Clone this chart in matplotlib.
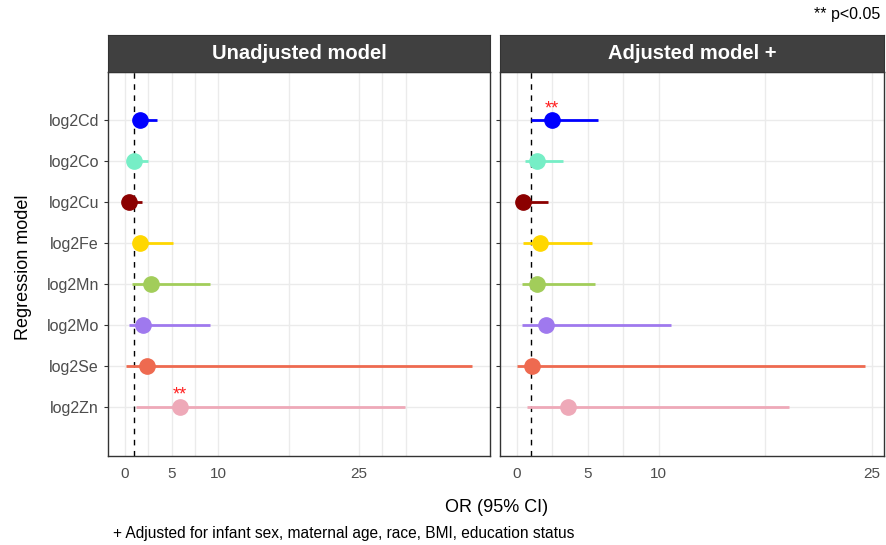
import matplotlib.pyplot as plt
import numpy as np

plt.rcParams['font.family'] = ['Liberation Sans', 'DejaVu Sans']

# metals, top to bottom
metals = ["log2Cd", "log2Co", "log2Cu", "log2Fe", "log2Mn", "log2Mo", "log2Se", "log2Zn"]
colors = ["#0000FF", "#76EEC6", "#8B0000", "#FFD700", "#A2CD5A", "#9F79EE", "#EE6A50", "#EEA9B8"]

# Unadjusted model: OR and 95% CI
unadj_or = [1.68, 1.00, 0.43, 1.60, 2.80, 1.96, 2.40, 5.90]
unadj_lo = [1.05, 0.55, 0.10, 0.85, 0.82, 0.41, 0.10, 1.21]
unadj_hi = [3.40, 2.50, 1.89, 5.20, 9.10, 9.15, 37.1, 29.9]
unadj_sig = [False, False, False, False, False, False, False, True]

# Adjusted model
adj_or = [2.46, 1.41, 0.47, 1.64, 1.41, 2.04, 1.06, 3.59]
adj_lo = [1.01, 0.58, 0.10, 0.45, 0.40, 0.40, 0.04, 0.70]
adj_hi = [5.70, 3.28, 2.18, 5.30, 5.51, 10.85, 24.5, 19.2]
adj_sig = [True, False, False, False, False, False, False, False]

panels = [
    ("Unadjusted model", unadj_or, unadj_lo, unadj_hi, unadj_sig, (-1.78, 39.0),
     [0, 2.5, 5, 7.5, 10, 17.5, 25, 27.5, 30], [0.1219, 0.4312]),
    ("Adjusted model +", adj_or, adj_lo, adj_hi, adj_sig, (-1.18, 25.87),
     [0, 2.5, 5, 7.5, 10, 17.5, 25], [0.5643, 0.4334]),
]
xticks = [0, 5, 10, 25]

fig = plt.figure(figsize=(8.86, 5.45), dpi=100)
ypos = np.arange(len(metals))[::-1] + 1  # Cd at top

for i, (title, est, lo, hi, sig, xlim, grid, (left, width)) in enumerate(panels):
    ax = fig.add_axes([left, 0.1633, width, 0.7046])
    for g in grid:
        ax.axvline(g, color="#EBEBEB", lw=1, zorder=0)
    for y in ypos:
        ax.axhline(y, color="#EBEBEB", lw=1, zorder=0)
    ax.axvline(1, color="black", lw=1, ls=(0, (4, 4)), zorder=1)
    for k in range(len(metals)):
        ax.plot([lo[k], hi[k]], [ypos[k], ypos[k]], color=colors[k], lw=2.0, zorder=2,
                solid_capstyle="butt")
        ax.plot(est[k], ypos[k], "o", color=colors[k], ms=11, zorder=3)
        if sig[k]:
            ax.text(est[k], ypos[k] + 0.08, "**", color="#FF2020", ha="center",
                    va="bottom", fontsize=13)
    ax.set_xlim(*xlim)
    ax.set_ylim(1 - 1.2, 8 + 1.18)
    ax.set_xticks(xticks)
    ax.set_xticklabels([str(t) for t in xticks])
    ax.set_yticks(ypos)
    ax.set_yticklabels(metals if i == 0 else [])
    ax.tick_params(axis="x", length=0, labelsize=11, labelcolor="#4D4D4D", pad=8)
    ax.tick_params(axis="y", length=3, color="#333333", labelsize=11.5, labelcolor="#4D4D4D")
    for s in ax.spines.values():
        s.set_color("#333333")
        s.set_linewidth(1)

    # facet strip
    sax = fig.add_axes([left, 0.8679, width, 0.0679])
    sax.set_facecolor("#404040")
    sax.set_xticks([])
    sax.set_yticks([])
    for s in sax.spines.values():
        s.set_color("#333333")
    sax.text(0.5, 0.5, title, color="white", fontsize=14.5, fontweight="bold",
             ha="center", va="center", transform=sax.transAxes)

fig.text(0.027, 0.51, "Regression model", rotation=90, ha="center", va="center", fontsize=13)
fig.text(0.56, 0.069, "OR (95% CI)", ha="center", va="center", fontsize=13)
fig.text(0.127, 0.022, "+ Adjusted for infant sex, maternal age, race, BMI, education status",
         ha="left", va="center", fontsize=11.2)
fig.text(0.993, 0.974, "** p<0.05", ha="right", va="center", fontsize=11.5)

fig.savefig("out.png", dpi=100)
